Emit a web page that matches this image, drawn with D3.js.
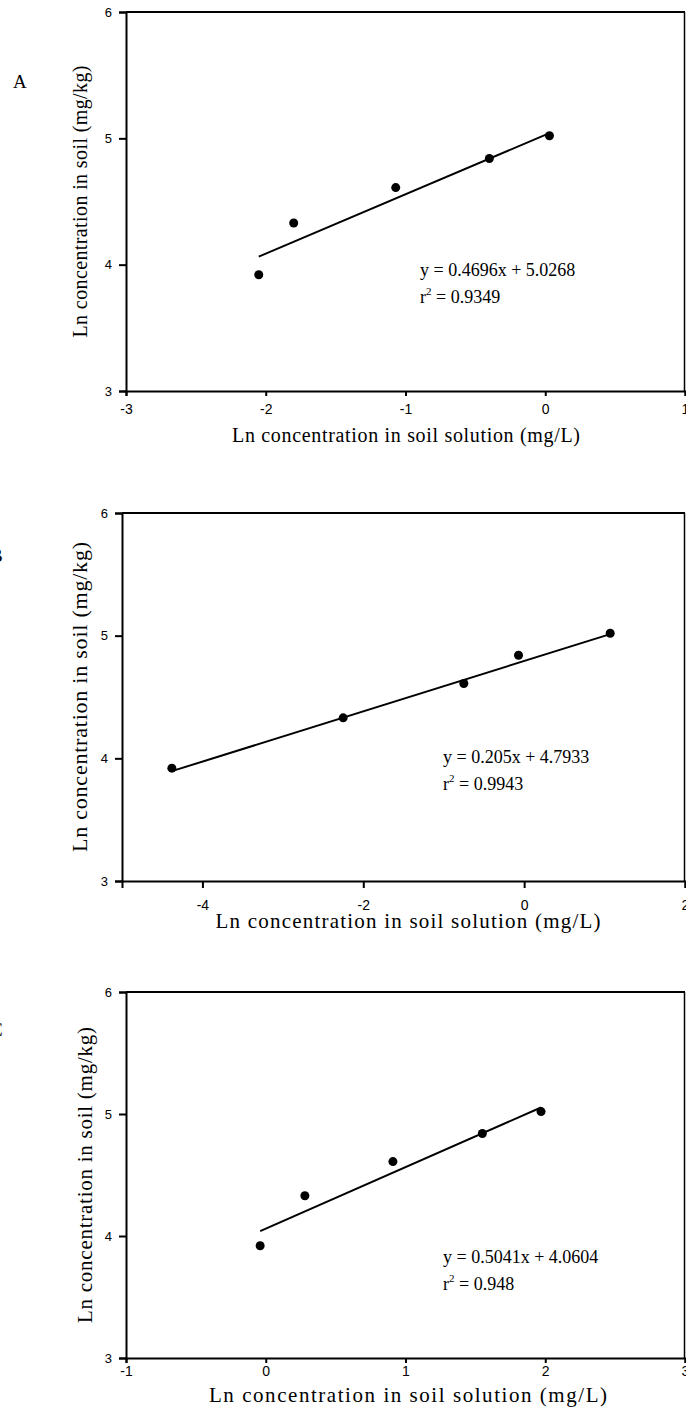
<!DOCTYPE html>
<html>
<head>
<meta charset="utf-8">
<script src="https://cdn.jsdelivr.net/npm/d3@7"></script>
<style>
  body { margin: 0; background: #fff; }
  svg { display: block; }
</style>
</head>
<body>
<script>
// Ln concentration in soil (mg/kg), same five soils in every panel
var soilLn = [ 3.92, 4.33, 4.61, 4.84, 5.02 ];

// Ln concentration in soil solution (mg/L), one list per panel
var solutionA = [ -2.05, -1.80, -1.07, -0.40, 0.03 ];
var solutionB = [ -4.38, -2.25, -0.75, -0.07, 1.07 ];
var solutionC = [ -0.04, 0.28, 0.91, 1.55, 1.97 ];

// fitted lines : [slope, intercept, r2]
var fitA = [ 0.4696, 5.0268, "0.9349" ];
var fitB = [ 0.205, 4.7933, "0.9943" ];
var fitC = [ 0.5041, 4.0604, "0.948" ];

var xDomainA = [ -3, 1 ], xTicksA = [ -3, -2, -1, 0, 1 ];
var xDomainB = [ -5, 2 ], xTicksB = [ -4, -2, 0, 2 ];
var xDomainC = [ -1, 3 ], xTicksC = [ -1, 0, 1, 2, 3 ];
var yDomain = [ 3, 6 ], yTicks = [ 3, 4, 5, 6 ];

var panelLetters = [ "A", "B", "C" ];
var xTitle = "Ln concentration in soil solution (mg/L)";
var yTitle = "Ln concentration in soil (mg/kg)";

var serif = "'Liberation Serif', 'Times New Roman', serif";
var sans = "'Liberation Sans', Arial, sans-serif";

var W = 686, H = 1418;

var svg = d3.select( "body" ).append( "svg" )
	.attr( "width", W )
	.attr( "height", H );

function fmtEq( f ) {
	return "y = " + f[0] + "x + " + f[1];
}

function drawPanel( p ) {
	var xScale = d3.scaleLinear().domain( p.xDomain ).range( [ p.left, p.right ] );
	var yScale = d3.scaleLinear().domain( yDomain ).range( [ p.bottom, p.top ] );

	var g = svg.append( "g" );

	// frame top / right
	g.append( "line" )
		.attr( "x1", p.left ).attr( "x2", p.right )
		.attr( "y1", p.top ).attr( "y2", p.top )
		.attr( "stroke", "#000" ).attr( "stroke-width", 2 );
	g.append( "line" )
		.attr( "x1", p.right - 0.5 ).attr( "x2", p.right - 0.5 )
		.attr( "y1", p.top ).attr( "y2", p.bottom )
		.attr( "stroke", "#000" ).attr( "stroke-width", 1.5 );

	var xAxis = g.append( "g" )
		.attr( "transform", `translate(0, ${ p.bottom } )` )
		.call( d3.axisBottom( xScale ).tickValues( p.xTicks ).tickSize( p.xTickLen ).tickPadding( p.xTickPad ).tickFormat( d => String( d ) ) );

	var yAxis = g.append( "g" )
		.attr( "transform", `translate( ${ p.left } , 0 )` )
		.call( d3.axisLeft( yScale ).tickValues( yTicks ).tickSize( 7 ).tickPadding( 7 ).tickFormat( d => String( d ) ) );

	[ xAxis, yAxis ].forEach( function ( a ) {
		a.select( ".domain" ).attr( "stroke-width", 2 );
		a.selectAll( ".tick line" ).attr( "stroke-width", 2 );
		a.selectAll( "text" )
			.attr( "font-family", sans )
			.attr( "fill", "#000" );
	} );
	xAxis.selectAll( "text" ).attr( "font-size", "14px" );
	yAxis.selectAll( "text" ).attr( "font-size", "13px" );

	// regression line over the data range
	var ext = d3.extent( p.xs );
	var fitPts = ext.map( function ( x ) { return [ x, p.fit[0] * x + p.fit[1] ]; } );
	g.append( "path" )
		.attr( "fill", "none" )
		.attr( "stroke", "#000" )
		.attr( "stroke-width", 2 )
		.attr( "d", d3.line()
			.x( function ( d ) { return xScale( d[0] ); } )
			.y( function ( d ) { return yScale( d[1] ); } )( fitPts ) );

	g.selectAll( ".pt" )
		.data( p.xs.map( function ( x, i ) { return [ x, soilLn[i] ]; } ) )
		.enter()
		.append( "circle" )
		.attr( "cx", function ( d ) { return xScale( d[0] ); } )
		.attr( "cy", function ( d ) { return yScale( d[1] ); } )
		.attr( "r", 4.5 )
		.attr( "fill", "#000" );

	// equation
	var eq = g.append( "text" )
		.attr( "font-family", serif )
		.attr( "font-size", p.eqSize + "px" )
		.attr( "x", p.eqX )
		.attr( "y", p.eqY );
	eq.append( "tspan" ).text( fmtEq( p.fit ) );
	var r2 = g.append( "text" )
		.attr( "font-family", serif )
		.attr( "font-size", p.eqSize + "px" )
		.attr( "x", p.eqX )
		.attr( "y", p.eqY + p.eqGap );
	r2.append( "tspan" ).text( "r" );
	r2.append( "tspan" ).attr( "font-size", "11px" ).attr( "dy", -8 ).text( "2" );
	r2.append( "tspan" ).attr( "dy", 8 ).text( " = " + p.fit[2] );

	// axis titles
	g.append( "text" )
		.attr( "font-family", serif )
		.attr( "font-size", p.xTitleSize + "px" )
		.attr( "text-anchor", "middle" )
		.attr( "x", p.xTitleX )
		.attr( "y", p.xTitleY )
		.attr( "textLength", p.xTitleLen )
		.attr( "lengthAdjust", "spacing" )
		.text( xTitle );

	g.append( "text" )
		.attr( "font-family", serif )
		.attr( "font-size", p.yTitleSize + "px" )
		.attr( "text-anchor", "middle" )
		.attr( "textLength", p.yTitleLen )
		.attr( "lengthAdjust", "spacing" )
		.attr( "transform", `translate( ${ p.yTitleX }, ${ ( p.top + p.bottom ) / 2 } ) rotate(-90)` )
		.text( yTitle );

	g.append( "text" )
		.attr( "font-family", serif )
		.attr( "font-size", "19px" )
		.attr( "x", p.letterX )
		.attr( "y", p.letterY )
		.text( p.letter );
}

drawPanel( {
	letter: panelLetters[0], letterX: 13, letterY: 88,
	xs: solutionA, fit: fitA, xDomain: xDomainA, xTicks: xTicksA,
	left: 126, right: 685, top: 12, bottom: 391,
	xTickLen: 5, xTickPad: 8,
	eqX: 420, eqY: 276, eqGap: 27, eqSize: 18,
	xTitleX: 406, xTitleY: 442, xTitleLen: 348, xTitleSize: 20,
	yTitleX: 87, yTitleLen: 272, yTitleSize: 20
} );

drawPanel( {
	letter: panelLetters[1], letterX: -10, letterY: 562,
	xs: solutionB, fit: fitB, xDomain: xDomainB, xTicks: xTicksB,
	left: 122, right: 685, top: 513, bottom: 881,
	xTickLen: 7, xTickPad: 12,
	eqX: 443, eqY: 763, eqGap: 27, eqSize: 18,
	xTitleX: 408, xTitleY: 928, xTitleLen: 385, xTitleSize: 21,
	yTitleX: 87, yTitleLen: 310, yTitleSize: 22
} );

drawPanel( {
	letter: panelLetters[2], letterX: -10, letterY: 1036,
	xs: solutionC, fit: fitC, xDomain: xDomainC, xTicks: xTicksC,
	left: 126, right: 685, top: 992, bottom: 1358,
	xTickLen: 5, xTickPad: 3,
	eqX: 443, eqY: 1263, eqGap: 27, eqSize: 18,
	xTitleX: 408, xTitleY: 1402, xTitleLen: 398, xTitleSize: 21,
	yTitleX: 92, yTitleLen: 296, yTitleSize: 21
} );
</script>
</body>
</html>
